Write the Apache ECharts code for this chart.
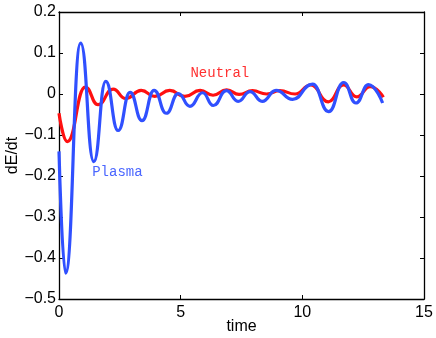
<!DOCTYPE html>
<html>
<head>
<meta charset="utf-8">
<script src="https://cdn.jsdelivr.net/npm/echarts@6/dist/echarts.min.js"></script>
<style>
  html, body { margin: 0; padding: 0; background: #fff; }
  #chart { width: 436px; height: 338px; }
</style>
</head>
<body>
<div id="chart"></div>
<script>
// time / value pairs
const plasmaT = [0, 0.27, 0.89, 1.43, 1.92, 2.43, 2.92, 3.41, 3.91, 4.41, 4.9, 5.38, 5.9, 6.34, 6.88, 7.36, 7.85, 8.35, 8.92, 9.6, 10.42, 11.08, 11.7, 12.2, 12.72, 13.3]
const plasmaV = [-0.14, -0.437, 0.124, -0.165, 0.031, -0.089, 0.004, -0.065, 0.009, -0.047, 0.001, -0.03, 0.003, -0.028, 0.008, -0.018, 0.006, -0.018, 0.009, -0.013, 0.024, -0.043, 0.028, -0.022, 0.023, -0.022]

const neutralT = [0, 0.34, 1.08, 1.6, 2.22, 2.74, 3.38, 3.93, 4.55, 5.17, 5.8, 6.33, 6.89, 7.4, 7.95, 8.53, 9.08, 9.7, 10.35, 11.07, 11.69, 12.24, 12.79, 13.33]
const neutralV = [-0.047, -0.116, 0.017, -0.026, 0.012, -0.011, 0.009, -0.006, 0.009, -0.006, 0.009, -0.003, 0.01, -0.001, 0.008, 0.0, 0.008, 0.0, 0.022, -0.019, 0.022, -0.007, 0.018, -0.008]

const xTickLabels = ['0', '5', '10', '15']
const yTickLabels = ['\u22120.5', '\u22120.4', '\u22120.3', '\u22120.2', '\u22120.1', '0', '0.1', '0.2']

// text annotations: [t, value]
const neutralLabelAt = [6.61, 0.05]
const plasmaLabelAt = [2.4, -0.192]

const chart = echarts.init(document.getElementById('chart'))

const font = 'Liberation Sans, Arial, sans-serif'
const frameLine = { onZero: false, lineStyle: { color: '#000', width: 1.3 } }
const innerTick = { inside: true, length: 4, lineStyle: { color: '#000', width: 1 } }

const option = {
  animation: false,
  grid: { left: 59, right: 12, top: 12, bottom: 39, containLabel: false, outerBoundsMode: 'none' },
  xAxis: [
    {
      type: 'value', min: 0, max: 15, interval: 5,
      axisLine: frameLine, axisTick: innerTick, splitLine: { show: false },
      axisLabel: {
        color: '#000', fontSize: 16, fontFamily: font, margin: 6,
        formatter: v => xTickLabels[Math.round(v / 5)]
      },
      name: 'time', nameLocation: 'middle', nameGap: 20, nameMoveOverlap: false,
      nameTextStyle: { color: '#000', fontSize: 16, fontFamily: font }
    },
    {
      type: 'value', min: 0, max: 15, interval: 5, position: 'top',
      axisLine: frameLine, axisTick: innerTick, axisLabel: { show: false },
      splitLine: { show: false }
    }
  ],
  yAxis: [
    {
      type: 'value', min: -0.5, max: 0.2, interval: 0.1,
      axisLine: frameLine, axisTick: innerTick, splitLine: { show: false },
      axisLabel: {
        color: '#000', fontSize: 16, fontFamily: font, margin: 3,
        formatter: v => yTickLabels[Math.round((v + 0.5) / 0.1)]
      },
      name: 'dE/dt', nameLocation: 'middle', nameGap: 38, nameMoveOverlap: false,
      nameTextStyle: { color: '#000', fontSize: 16, fontFamily: font }
    },
    {
      type: 'value', min: -0.5, max: 0.2, interval: 0.1, position: 'right',
      axisLine: frameLine, axisTick: innerTick, axisLabel: { show: false },
      splitLine: { show: false }
    }
  ],
  series: [
    {
      name: 'Neutral', type: 'line', showSymbol: false, smooth: 0.5, smoothMonotone: 'x',
      lineStyle: { color: '#ff1010', width: 3.2 },
      data: neutralT.map((t, i) => [t, neutralV[i]])
    },
    {
      name: 'Plasma', type: 'line', showSymbol: false, smooth: 0.5, smoothMonotone: 'x',
      lineStyle: { color: '#3050ff', width: 3.2 },
      data: plasmaT.map((t, i) => [t, plasmaV[i]])
    }
  ]
}

chart.setOption(option)

const nPos = chart.convertToPixel({ gridIndex: 0 }, neutralLabelAt)
const pPos = chart.convertToPixel({ gridIndex: 0 }, plasmaLabelAt)

chart.setOption({
  graphic: [
    {
      type: 'text', x: nPos[0], y: nPos[1],
      style: {
        text: 'Neutral', fill: '#ff3030', fontSize: 14,
        fontFamily: 'Liberation Mono, Courier New, monospace',
        align: 'center', verticalAlign: 'middle'
      }
    },
    {
      type: 'text', x: pPos[0], y: pPos[1],
      style: {
        text: 'Plasma', fill: '#4a66ff', fontSize: 14,
        fontFamily: 'Liberation Mono, Courier New, monospace',
        align: 'center', verticalAlign: 'middle'
      }
    }
  ]
})
</script>
</body>
</html>
